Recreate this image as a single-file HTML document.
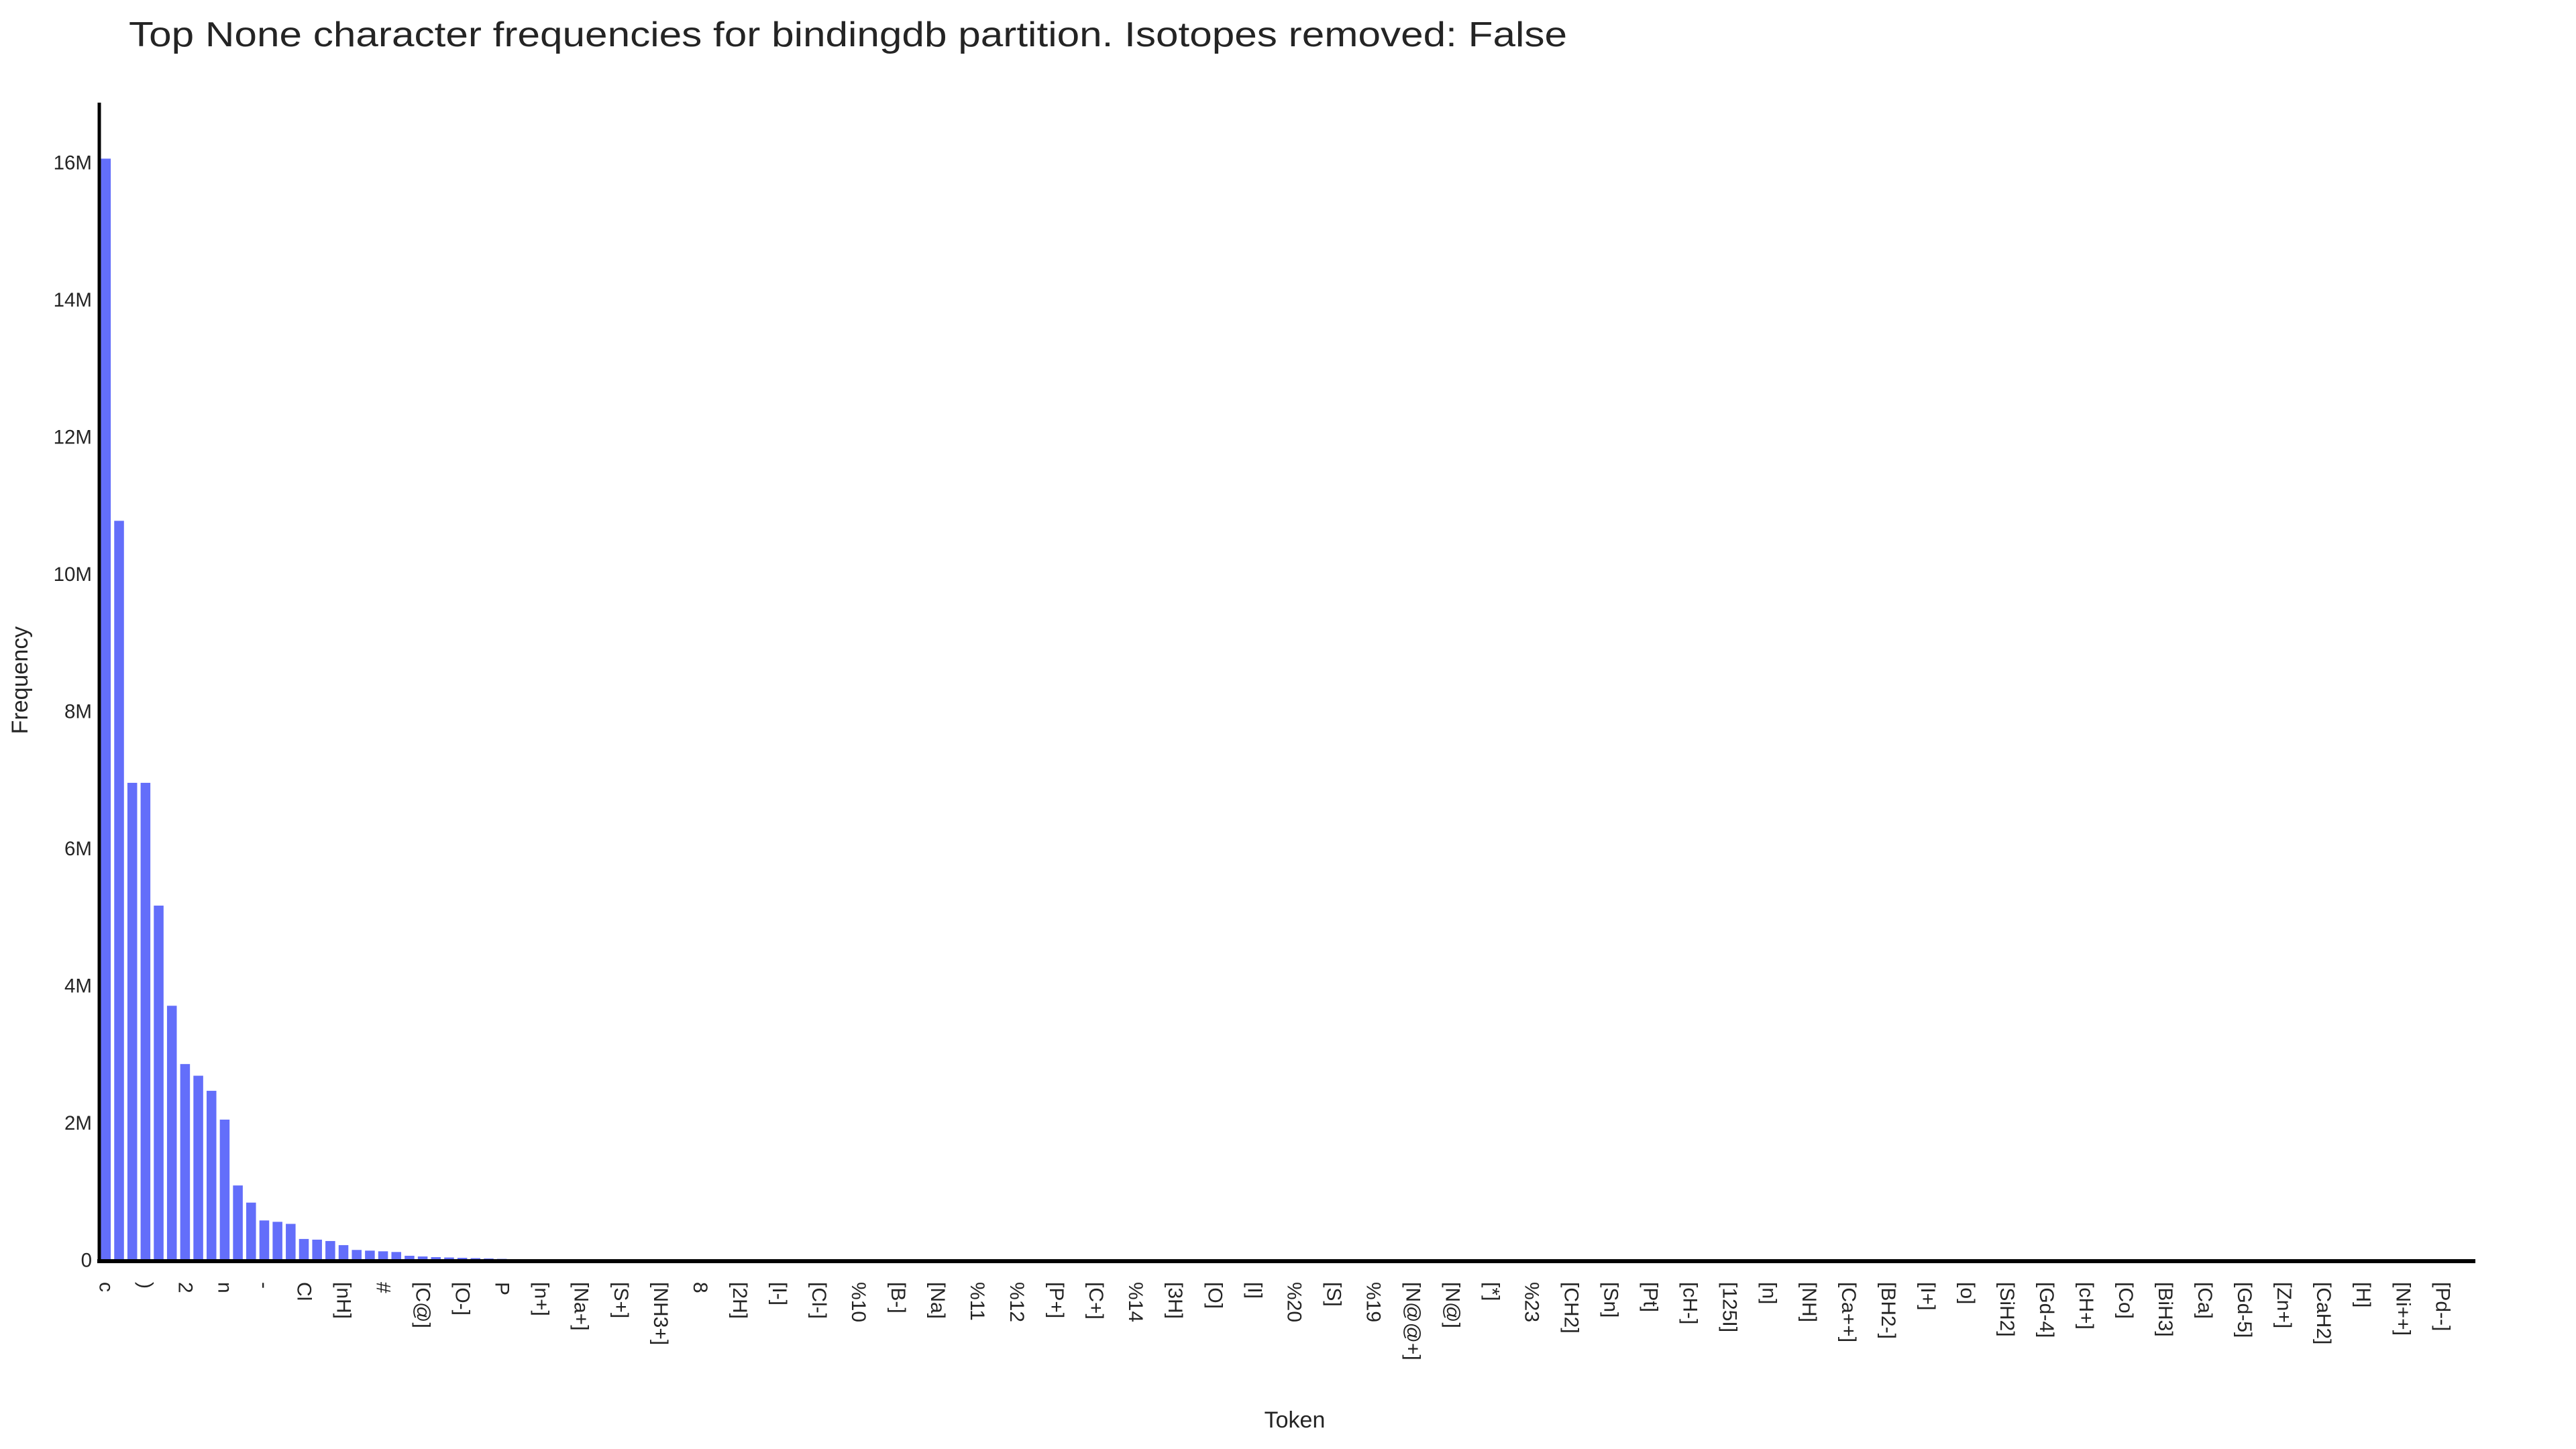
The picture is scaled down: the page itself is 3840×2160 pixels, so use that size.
<!DOCTYPE html>
<html><head><meta charset="utf-8"><style>
html,body{margin:0;padding:0;background:#fff;}
svg{display:block;font-family:"Liberation Sans",Arial,sans-serif;}
</style></head><body>
<svg id="chart" width="3840" height="2160" viewBox="0 0 3840 2160" xmlns="http://www.w3.org/2000/svg">
<rect width="3840" height="2160" fill="#fff"/>
<text x="192" y="69" font-size="52" fill="#242424" textLength="2144" lengthAdjust="spacingAndGlyphs">Top None character frequencies for bindingdb partition. Isotopes removed: False</text>
<g id="bars"></g>
<g id="yticks"></g>
<g id="xticks"></g>
<line x1="148" y1="153" x2="148" y2="1883" stroke="#000" stroke-width="5"/>
<line x1="145" y1="1880" x2="3690" y2="1880" stroke="#000" stroke-width="6"/>
<text x="30" y="1014" font-size="34" fill="#242424" text-anchor="middle" dominant-baseline="central" transform="rotate(-90 30 1014)">Frequency</text>
<text x="1930" y="2128" font-size="34" fill="#242424" text-anchor="middle">Token</text>
</svg>
<script>
const categories = ["c","C","(",")","1","O","2","=","N","n","3","F","-","[C@@H]","[C@H]","Cl","S","4","[nH]","o","s","#","Br","/","[C@]","[C@@]","\\","[O-]","5","[N+]","P","6","I","[n+]","[Si]","[B]","[Na+]","7","[N-]","[S+]","[S@]","[S@@]","[NH3+]","[P@]","[K+]","8","[Se]","[se]","[2H]","[NH+]","[Li+]","[I-]","[Br-]","[nH+]","[Cl-]","9","[NH2+]","%10","[Sn+]","[O+]","[B-]","[P@@]","[As]","[Na]","[Zn]","[Pt+2]","%11","[H+]","[Fe]","%12","[Mg]","[Cu]","[P+]","[N@+]","[Hg]","[C+]","[Ca+2]","[13C]","%14","[Ru]","[13CH3]","[3H]","[K]","%13","[O]","[Fe+2]","[18F]","[I]","[Mn]","[C-]","%20","[Ge]","[Co+2]","[S]","[Al]","%15","%19","[Rh]","[Pd]","[N@@+]","[Ag]","%16","[N@]","[Ni]","[Te]","[*]","%17","[Au]","%23","%18","[Zn+2]","[CH2]","[Ir]","%21","[Sn]","[Cr]","[V]","[Pt]","[Gd]","%22","[cH-]","[Os]","[Ti]","[125I]","[Re]","[SH]","[n]","[Cs+]","[Ba]","[NH]","[Sb]","[Bi]","[Ca++]","[W]","[Mo]","[BH2-]","[Tl]","[Ga]","[I+]","[In]","[Zr]","[o]","[Sr]","[La]","[SiH2]","[Y]","[Eu]","[Gd-4]","[Tb]","[Ce]","[cH+]","[Hf]","[Nd]","[Co]","[Sm]","[Dy]","[BiH3]","[Er]","[Yb]","[Ca]","[Lu]","[Pr]","[Gd-5]","[Ho]","[Tm]","[Zn+]","[Cd]","[Sc]","[CaH2]","[Be]","[Rb+]","[H]","[Cs]","[Ta]","[Ni++]","[Nb]","[Pb]","[Pd--]","[Ra]","[Ac]"];
const frequencies = [16060000,10780000,6960000,6960000,5170000,3710000,2860000,2690000,2470000,2050000,1090000,840000,580000,560000,530000,310000,300000,280000,220000,150000,140000,130000,120000,65000,55000,45000,40000,35000,30000,25000,20000,16000,13000,11000,9000,8000,7000,6000,5500,5000,4500,4000,3500,3200,3000,2800,2600,2400,2200,2000,1900,1800,1700,1600,1500,1400,1300,1200,1150,1100,1050,1000,950,900,850,800,760,720,690,660,630,600,570,540,510,480,460,440,420,400,380,360,340,320,300,290,280,270,260,250,240,230,220,210,200,190,180,170,160,150,145,140,135,130,125,120,115,110,105,100,96,92,88,84,80,76,72,68,64,60,57,54,51,48,45,42,40,38,36,34,32,30,28,26,24,22,20,19,18,17,16,15,14,13,12,11,10,9,9,8,8,7,7,6,6,5,5,5,4,4,4,3,3,3,3,2,2,2,2,2,1,1,1,1,1,1,1,1];
const yTickValues = [0,2000000,4000000,6000000,8000000,10000000,12000000,14000000,16000000];
const yTickLabels = ["0","2M","4M","6M","8M","10M","12M","14M","16M"];

const NS = "http://www.w3.org/2000/svg";
const X0 = 148, X1 = 3690, Y0 = 1878, PX_PER_UNIT = 102.25 / 1000000;
const band = (X1 - X0) / categories.length;
function xScale(i){ return X0 + band * i; }
function yScale(v){ return Y0 - v * PX_PER_UNIT; }

const barsG = document.getElementById('bars');
categories.forEach((cat, i) => {
  const v = frequencies[i] || 0;
  const r = document.createElementNS(NS, 'rect');
  const w = band * 0.8;
  r.setAttribute('x', xScale(i) + (band - w) / 2);
  r.setAttribute('y', yScale(v));
  r.setAttribute('width', w);
  r.setAttribute('height', Math.max(0, Y0 - yScale(v)));
  r.setAttribute('fill', '#636efa');
  r.setAttribute('stroke', '#fff');
  r.setAttribute('stroke-width', '1.2');
  
  
  barsG.appendChild(r);
});

const yG = document.getElementById('yticks');
yTickValues.forEach((v, i) => {
  const t = document.createElementNS(NS, 'text');
  t.setAttribute('x', 137);
  t.setAttribute('y', yScale(v) + 10.5);
  t.setAttribute('font-size', '29.5');
  t.setAttribute('fill', '#242424');
  t.setAttribute('text-anchor', 'end');
  t.textContent = yTickLabels[i];
  
  
  yG.appendChild(t);
});

const xG = document.getElementById('xticks');
categories.forEach((cat, i) => {
  if (i % 3 !== 0) return;
  const cx = xScale(i) + band / 2;
  const t = document.createElementNS(NS, 'text');
  t.setAttribute('x', cx);
  t.setAttribute('y', 1911);
  t.setAttribute('font-size', '30');
  t.setAttribute('fill', '#242424');
  t.setAttribute('dominant-baseline', 'central');
  t.setAttribute('transform', 'rotate(90 ' + cx + ' 1911)');
  t.textContent = cat;
  
  
  xG.appendChild(t);
});
</script>
</body></html>
